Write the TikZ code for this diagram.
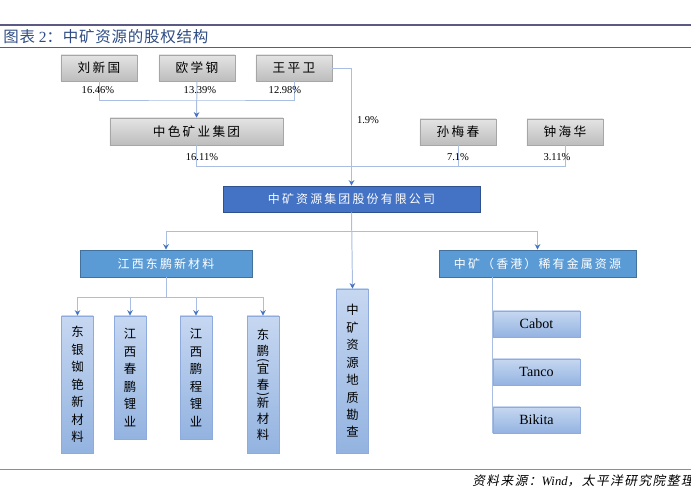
\documentclass[tikz,border=0pt]{standalone}
\usepackage{fontspec}
\setmainfont{Liberation Serif}
\newfontfamily\cjk[LetterSpace=18]{Noto Sans CJK SC}
\newfontfamily\cjktitle[LetterSpace=5]{Noto Sans CJK SC}
\newfontfamily\cjkplain{Noto Sans CJK SC}
\newfontfamily\cjkslant[FakeSlant=0.2,LetterSpace=12]{Noto Sans CJK SC}
\usetikzlibrary{arrows.meta}
\definecolor{zkRule}{HTML}{5A5A84}
\definecolor{zkTitle}{HTML}{2E4C84}
\definecolor{zkLink}{HTML}{A9BEE2}
\definecolor{zkTip}{HTML}{4472C4}
\definecolor{zkGrayTop}{HTML}{E4E4E4}
\definecolor{zkGrayBot}{HTML}{BDBDBD}
\definecolor{zkGrayLine}{HTML}{A6A6A6}
\definecolor{zkCore}{HTML}{4472C4}
\definecolor{zkCoreLine}{HTML}{2F528F}
\definecolor{zkSub}{HTML}{5B9BD5}
\definecolor{zkSubLine}{HTML}{41719C}
\definecolor{zkLeafTop}{HTML}{C6D7F1}
\definecolor{zkLeafBot}{HTML}{93B3E0}
\definecolor{zkLeafLine}{HTML}{8FAADC}
\tikzset{
  zk rule/.style={draw=zkRule, line width=1.4pt},
  zk thin rule/.style={draw=zkRule, line width=0.7pt},
  zk pct/.style={font=\fontsize{7.5}{9}\selectfont, inner sep=0pt},
  zk cn/.style={font=\cjk\fontsize{8.5}{10}\selectfont, inner sep=0pt},
  zk vert/.style={font=\cjkplain\fontsize{8.8}{12.4}\selectfont, align=center, inner sep=0pt},
}
\newcommand{\vparen}[1]{\smash{\raisebox{4pt}{\rotatebox{-90}{#1}}}}

\begin{document}
\begin{tikzpicture}[x=0.025cm, y=-0.025cm,
  holder/.style={zk cn, font=\cjk\fontsize{9}{10}\selectfont, draw=zkGrayLine,
    top color=zkGrayTop, bottom color=zkGrayBot, minimum width=1.9cm, minimum height=0.65cm},
  core/.style={zk cn, draw=zkCoreLine, fill=zkCore, text=white,
    minimum width=6.425cm, minimum height=0.65cm},
  sub/.style={zk cn, draw=zkSubLine, fill=zkSub, text=white,
    minimum width=4.3cm, minimum height=0.675cm},
  leaf/.style={draw=zkLeafLine, top color=zkLeafTop, bottom color=zkLeafBot,
    font=\fontsize{10}{12}\selectfont, inner sep=0pt, minimum width=2.175cm, minimum height=0.65cm},
  vleaf/.style={leaf, zk vert, minimum width=0.79cm},
  link/.style={draw=zkLink, line width=0.7pt},
  flow/.style={link, -{Stealth[length=1.4mm, width=1.4mm, color=zkTip]}}
]
  \useasboundingbox (0,0) rectangle (691,498);
  \draw[zk rule] (0,25) -- (691,25);
  \node[anchor=west, text=zkTitle, inner sep=0pt, font=\fontsize{11}{13}\selectfont] (title) at (3,37)
    {{\cjktitle 图表} 2{\cjktitle ：中矿资源的股权结构}};
  \draw[zk thin rule] (0,47) -- (691,47);

  \node[holder] (liu) at (99,68) {刘新国};
  \node[holder] (ou) at (197,68) {欧学钢};
  \node[holder] (wang) at (294,68) {王平卫};
  \node[holder, minimum width=4.325cm, minimum height=0.675cm] (zhongse) at (196.5,131.5) {中色矿业集团};
  \node[holder] (sun) at (458,132) {孙梅春};
  \node[holder] (zhong) at (565,132) {钟海华};
  \node[core] (zkzy) at (351.5,199) {中矿资源集团股份有限公司};
  \node[sub] (dongpeng) at (166,263.5) {江西东鹏新材料};
  \node[sub, minimum width=4.925cm] (hk) at (537.5,263.5) {中矿（香港）稀有金属资源};

  \node[vleaf, minimum height=3.425cm] (dongyin) at (77.5,384.5) {东\\银\\铷\\铯\\新\\材\\料};
  \node[vleaf, minimum height=3.075cm] (chunpeng) at (130,377.5) {江\\西\\春\\鹏\\锂\\业};
  \node[vleaf, minimum height=3.075cm] (pengcheng) at (196,377.5) {江\\西\\鹏\\程\\锂\\业};
  \node[vleaf, minimum height=3.425cm] (yichun) at (263,384.5)
    {东\\[-1pt]鹏\\[-6pt]\vparen{(}\\[-6pt]宜\\[-1pt]春\\[-6pt]\vparen{)}\\[-6pt]新\\[-1pt]材\\[-1pt]料};
  \node[vleaf, minimum height=4.1cm] (geo) at (352.5,371) {中\\矿\\资\\源\\地\\质\\勘\\查};
  \node[leaf] (cabot) at (536.5,324) {Cabot};
  \node[leaf] (tanco) at (536.5,372) {Tanco};
  \node[leaf] (bikita) at (536.5,420) {Bikita};

  \coordinate (top join) at (197,100);
  \coordinate (mid join) at (352,166);
  \coordinate (split) at (352,231);
  \coordinate (fork) at (166,297);

  \draw[link] (liu.south) |- (top join) -| (wang.south);
  \draw[flow] (ou.south) -- (zhongse.north);
  \draw[flow] (wang.east) -| (zkzy.north);
  \draw[link] (zhongse.south) |- (mid join);
  \draw[link] (zhong.south) |- (mid join);
  \draw[link] (sun.south) -- (sun.south |- mid join);
  \draw[flow] (zkzy.south) -- (geo.north);
  \draw[flow] (split) -| (dongpeng.north);
  \draw[flow] (split) -| (hk.north);
  \draw[link] (dongpeng.south) -- (fork);
  \foreach \sub in {dongyin, chunpeng, pengcheng, yichun}
    \draw[flow] (fork) -| (\sub.north);
  \draw[link] (hk.south -| cabot.west) -- (bikita.south west);

  \node[zk pct] (p liu) at (98,90) {16.46\%};
  \node[zk pct] (p ou) at (200,90) {13.39\%};
  \node[zk pct] (p wang) at (285,90) {12.98\%};
  \node[zk pct] (p zhongse) at (202,157) {16.11\%};
  \node[zk pct] (p wang direct) at (368,120) {1.9\%};
  \node[zk pct] (p sun) at (458,157) {7.1\%};
  \node[zk pct] (p zhong) at (557,157) {3.11\%};

  \draw[zk thin rule, draw=zkRule!70] (0,469) -- (691,469);
  \node[anchor=west, inner sep=0pt, font=\fontsize{9}{11}\selectfont] (source) at (472,481)
    {{\cjkslant 资料来源：}\textit{Wind}{\cjkslant ，太平洋研究院整理}};
\end{tikzpicture}
\end{document}
